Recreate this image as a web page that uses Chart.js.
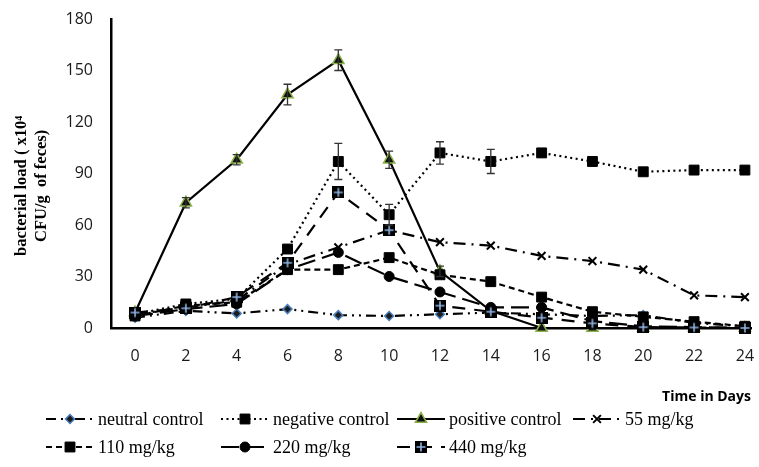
<!DOCTYPE html>
<html>
<head>
<meta charset="utf-8">
<script src="https://cdn.jsdelivr.net/npm/chart.js@4.4.1/dist/chart.umd.min.js"></script>
<style>
  html,body{margin:0;padding:0;background:#fff;overflow:hidden}
  canvas{display:block}
</style>
</head>
<body>
<canvas id="chart" width="759" height="467"></canvas>
<script>
// values (x10^4 CFU/g of feces)
const days = [0,2,4,6,8,10,12,14,16,18,20,22,24];
const yTicks = [0,30,60,90,120,150,180];
const seriesNames = ['neutral control','negative control','positive control','55 mg/kg','110 mg/kg','220 mg/kg','440 mg/kg'];

const neutralControl  = [6, 10, 8.5, 11, 7.5, 7, 8, 9, 8, 7, 7.5, 3, 1];
const negativeControl = [8, 14, 17, 46, 97, 66, 102, 97, 102, 97, 91, 92, 92];
const positiveControl = [9, 73, 98, 136, 156, 98, 33, 10, 0, 0, 0, 0, 0];
const dose55  = [8, 12, 16, 37, 47, 57, 50, 48, 42, 39, 34, 19, 18];
const dose110 = [7, 13, 15, 34, 34, 41, 31, 27, 18, 9.5, 6.5, 3.7, 1];
const dose220 = [7, 11, 14, 34, 44, 30, 21, 12, 12, 4, 1, 0.5, 0];
const dose440 = [9, 11.5, 18, 38, 79, 57, 13, 9.5, 6, 2.7, 0.5, 0.3, 0];

const negativeErr = [0, 0, 0, 0, 10.5, 6, 6.5, 7, 0, 0, 0, 0, 0];
const positiveErr = [0, 3, 3, 6, 6, 5, 3, 0, 0, 0, 0, 0, 0];

// black square with blue cross, used as the 440 mg/kg marker
function plusSquare(){
  const c=document.createElement('canvas'); c.width=12; c.height=12;
  const g=c.getContext('2d');
  g.fillStyle='#000'; g.fillRect(0,0,12,12);
  g.strokeStyle='#8fb4e3'; g.lineWidth=1.6;
  g.beginPath(); g.moveTo(6,1.5); g.lineTo(6,10.5); g.moveTo(1.5,6); g.lineTo(10.5,6); g.stroke();
  return c;
}

const pts = arr => days.map((d,i)=>({x:d, y:arr[i]}));

const styles = [
  { data:neutralControl,  dash:[10,5,2,5,2,5], point:'rectRot',  r:4.5, bg:'#1c1c1c', bc:'#4a7ebb', bw:1.5 },
  { data:negativeControl, dash:[2,3.5],        point:'rect',     r:7,   bg:'#000',    bc:'#000',    bw:1, err:negativeErr },
  { data:positiveControl, dash:[],             point:'triangle', r:6.5, bg:'#111',    bc:'#8ab04a', bw:1.5, err:positiveErr },
  { data:dose55,          dash:[12,6,2,6],     point:'crossRot', r:5.5, bg:'#000',    bc:'#000',    bw:2 },
  { data:dose110,         dash:[6,4],          point:'rect',     r:7,   bg:'#000',    bc:'#000',    bw:1 },
  { data:dose220,         dash:[18,7],         point:'circle',   r:5,   bg:'#000',    bc:'#000',    bw:1 },
  { data:dose440,         dash:[13,9],         point:plusSquare(), r:6, bg:'#000',    bc:'#000',    bw:1 }
];

const datasets = styles.map((s,i)=>({
  label: seriesNames[i],
  data: pts(s.data),
  errors: s.err || null,
  borderColor:'#000', borderWidth:2.2, borderDash:s.dash, tension:0,
  pointStyle:s.point, pointRadius:s.r, pointBackgroundColor:s.bg,
  pointBorderColor:s.bc, pointBorderWidth:s.bw,
  order: styles.length-1-i, clip:false, fill:false
}));

const errorBars = {
  id:'errorBars',
  afterDatasetsDraw(chart){
    const {ctx, scales:{x,y}} = chart;
    ctx.save(); ctx.strokeStyle='#333'; ctx.lineWidth=1.3; ctx.setLineDash([]);
    chart.data.datasets.forEach(ds=>{
      if(!ds.errors) return;
      ds.errors.forEach((e,j)=>{
        if(!e) return;
        const px=x.getPixelForValue(ds.data[j].x);
        const t=y.getPixelForValue(ds.data[j].y+e), b=y.getPixelForValue(ds.data[j].y-e);
        ctx.beginPath();
        ctx.moveTo(px,t); ctx.lineTo(px,b);
        ctx.moveTo(px-4,t); ctx.lineTo(px+4,t);
        ctx.moveTo(px-4,b); ctx.lineTo(px+4,b);
        ctx.stroke();
      });
    });
    ctx.restore();
  }
};

// Excel-like legend: 4 columns, 2 rows, line sample with marker
const legendCols = [46, 221, 397, 573];
const legendRows = [{line:419, text:425}, {line:447, text:453}];
const sideLegend = {
  id:'sideLegend',
  afterDraw(chart){
    const ctx=chart.ctx;
    chart.data.datasets.forEach((ds,i)=>{
      const col=legendCols[i%4], row=legendRows[Math.floor(i/4)];
      ctx.save();
      ctx.strokeStyle='#000'; ctx.lineWidth=ds.borderWidth; ctx.setLineDash(ds.borderDash||[]);
      ctx.beginPath(); ctx.moveTo(col,row.line); ctx.lineTo(col+48,row.line); ctx.stroke();
      ctx.setLineDash([]);
      ctx.fillStyle=ds.pointBackgroundColor; ctx.strokeStyle=ds.pointBorderColor; ctx.lineWidth=ds.pointBorderWidth;
      if (Chart.helpers && Chart.helpers.drawPoint)
        Chart.helpers.drawPoint(ctx,{pointStyle:ds.pointStyle, radius:ds.pointRadius, rotation:0, borderWidth:ds.pointBorderWidth}, col+24, row.line);
      ctx.fillStyle='#000'; ctx.font='18px "Liberation Serif"'; ctx.textBaseline='alphabetic'; ctx.textAlign='left';
      ctx.fillText(ds.label, col+52, row.text);
      ctx.restore();
    });
  }
};

const noPad = s=>{ s.paddingLeft=0; s.paddingRight=0; s.paddingTop=0; s.paddingBottom=0; };
const NB = '\u00a0\u00a0\u00a0\u00a0\u00a0\u00a0';

new Chart(document.getElementById('chart'), {
  type:'line',
  data:{ datasets },
  options:{
    responsive:false, animation:false, devicePixelRatio:1,
    layout:{ padding:{ top:19, left:0, right:0, bottom:0 } },
    plugins:{ legend:{ display:false }, tooltip:{ enabled:false } },
    scales:{
      x:{
        type:'linear', min:-0.946, max:24.24,
        afterBuildTicks: s=>{ s.ticks = days.map(v=>({value:v})); },
        afterFit: s=>{ s.height = 139; noPad(s); },
        grid:{ display:false, drawTicks:false },
        border:{ color:'#000', width:2.5 },
        ticks:{ padding:19, autoSkip:false, maxRotation:0, color:'#1a1a1a', font:{ family:'Open Sans', size:16 } },
        title:{ display:true, text:'Time in Days', align:'end', color:'#000',
                font:{ family:'Open Sans', size:14, weight:'bold' }, padding:{ top:0, bottom:62 } }
      },
      y:{
        min:0, max:180,
        afterBuildTicks: s=>{ s.ticks = yTicks.map(v=>({value:v})); },
        afterFit: s=>{ s.width = 111; noPad(s); },
        grid:{ display:false, drawTicks:false },
        border:{ color:'#000', width:2.5 },
        ticks:{ padding:18, color:'#1a1a1a', font:{ family:'Open Sans', size:16 } },
        title:{ display:true, text:['bacterial load ( x10\u2074'+NB,'CFU/g  of feces)'+NB], color:'#000',
                font:{ family:'Liberation Serif', size:16.5, weight:'bold', lineHeight:1.2 }, padding:{ top:12, bottom:0 } }
      }
    }
  },
  plugins:[errorBars, sideLegend]
});
</script>
</body>
</html>
